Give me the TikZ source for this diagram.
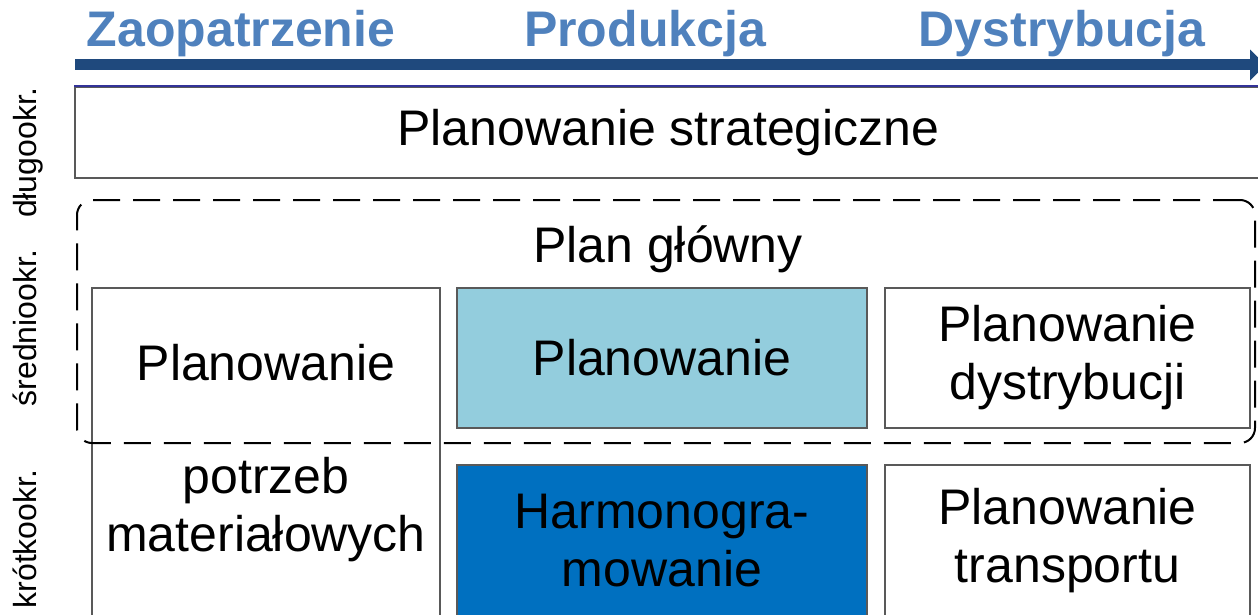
\documentclass[tikz,border=0pt]{standalone}
\usepackage{fontspec}
\setmainfont{Liberation Sans}
\usetikzlibrary{arrows.meta}
\definecolor{PhaseBlue}{HTML}{4F81BD}
\definecolor{Navy}{HTML}{1F497D}
\definecolor{EdgeGray}{HTML}{595959}
\definecolor{TopLine}{HTML}{333399}
\definecolor{LightCyan}{HTML}{93CDDD}
\definecolor{DeepBlue}{HTML}{0070C0}

\begin{document}
\begin{tikzpicture}[x=0.5pt,y=-0.5pt,>=Latex,
    every node/.style={font=\fontsize{25}{29}\selectfont,inner sep=0pt,align=center},
    phase/.style={font=\fontsize{25}{30}\selectfont\bfseries,text=PhaseBlue,anchor=base},
    horizon/.style={font=\fontsize{16}{19}\selectfont,rotate=90,anchor=base},
    cell/.style={draw=EdgeGray,line width=1pt,fill=white}]
    \useasboundingbox (0,0) rectangle (1258,615);

    % phases along the chain
    \foreach \name/\cx/\lab in {supply/241/Zaopatrzenie,prod/645/Produkcja,dist/1062/Dystrybucja} {
      \node[phase] (\name) at (\cx,47) {\lab};
    }
    \coordinate (flowstart) at (75,65);
    \coordinate (flowend) at (1266,65);
    \draw[Navy,line width=5.5pt,-{Triangle[length=8pt,width=15pt]}] (flowstart) -- (flowend);

    % planning horizons
    \foreach \name/\cy/\lab in {long/153/długookr.,mid/328/średniookr.,short/539/krótkookr.} {
      \node[horizon] (\name) at (36,\cy) {\lab};
    }

    \node[cell,minimum width=593.5pt,minimum height=45.5pt] (strat) at (668.5,132.5)
      {Planowanie strategiczne};
    \draw[TopLine,line width=1pt] (strat.north west) -- (strat.north east);

    \node[cell,minimum width=174pt,minimum height=164.5pt] (mrp) at (266,452.5) {};
    \node (mrptop) at (266,362.5) {Planowanie};
    \node (mrpbot) at (266,510) {potrzeb\\materiałowych};
    \node[cell,fill=LightCyan,minimum width=205pt,minimum height=70pt] (prodplan) at (662,358)
      {Planowanie};
    \node[cell,minimum width=182.5pt,minimum height=70pt] (distplan) at (1067.5,358)
      {Planowanie\\dystrybucji};
    \node[cell,fill=DeepBlue,minimum width=205pt,minimum height=76pt] (sched) at (662,541)
      {Harmonogra-\\mowanie};
    \node[cell,minimum width=182.5pt,minimum height=76pt] (transplan) at (1067.5,541)
      {Planowanie\\transportu};

    \node[draw,line width=1pt,dash pattern=on 13.5pt off 6.5pt,rounded corners=7.5pt,
          minimum width=589pt,minimum height=121.5pt] (master) at (666,321.5) {};
    \node (mastertxt) at (668,249.5) {Plan główny};
  \end{tikzpicture}
\end{document}
